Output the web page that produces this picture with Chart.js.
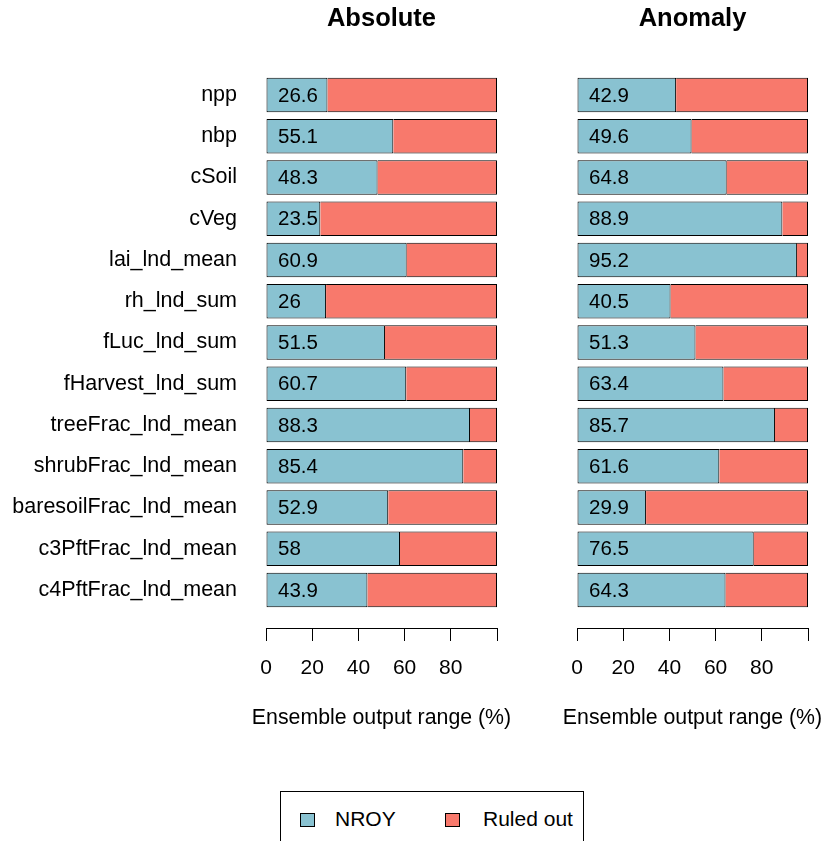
<!DOCTYPE html>
<html>
<head>
<meta charset="utf-8">
<script src="https://cdn.jsdelivr.net/npm/chart.js@4"></script>
<style>
  body { margin: 0; background: #fff; width: 824px; height: 841px; overflow: hidden; position: relative; font-family: "Liberation Sans", Arial, sans-serif; }
  #absChart { position: absolute; top: 0; left: 0; }
  #anomChart { position: absolute; top: 0; left: 561px; }
  #legend { position: absolute; left: 280px; top: 791px; width: 304px; height: 80px; border: 1px solid #000; box-sizing: border-box; }
  .sw { position: absolute; top: 21px; width: 15px; height: 14px; border: 1px solid #000; box-sizing: border-box; }
  .lt { position: absolute; top: 15px; font-size: 21px; line-height: 24px; color: #000; }
  #err { position: absolute; left: 0; top: 760px; font-size: 12px; color: red; }
</style>
</head>
<body>
<canvas id="absChart" width="763" height="760"></canvas>
<canvas id="anomChart" width="263" height="760"></canvas>
<div id="legend">
  <div class="sw" style="left:19px;background:#89C2D1"></div><div class="lt" style="left:54px">NROY</div>
  <div class="sw" style="left:164px;background:#F8796C"></div><div class="lt" style="left:202px">Ruled out</div>
</div>
<div id="err"></div>
<script>
// données
const rowNames = ['npp', 'nbp', 'cSoil', 'cVeg', 'lai_lnd_mean', 'rh_lnd_sum', 'fLuc_lnd_sum',
  'fHarvest_lnd_sum', 'treeFrac_lnd_mean', 'shrubFrac_lnd_mean', 'baresoilFrac_lnd_mean',
  'c3PftFrac_lnd_mean', 'c4PftFrac_lnd_mean'];
const absNroy   = [26.6, 55.1, 48.3, 23.5, 60.9, 26, 51.5, 60.7, 88.3, 85.4, 52.9, 58, 43.9];
const absRuled  = [73.4, 44.9, 51.7, 76.5, 39.1, 74, 48.5, 39.3, 11.7, 14.6, 47.1, 42, 56.1];
const anomNroy  = [42.9, 49.6, 64.8, 88.9, 95.2, 40.5, 51.3, 63.4, 85.7, 61.6, 29.9, 76.5, 64.3];
const anomRuled = [57.1, 50.4, 35.2, 11.1, 4.8, 59.5, 48.7, 36.6, 14.3, 38.4, 70.1, 23.5, 35.7];
const xTicks = [0, 20, 40, 60, 80, 100];

const colNroy = '#89C2D1';
const colRuled = '#F8796C';

Chart.defaults.font.family = '"Liberation Sans", Arial, sans-serif';
Chart.defaults.font.size = 21;
Chart.defaults.color = '#000';

// étiquettes dans les barres
const barText = {
  id: 'barText',
  afterDatasetsDraw(chart) {
    const ctx = chart.ctx;
    const x0 = chart.scales.x.getPixelForValue(0);
    const meta = chart.getDatasetMeta(0);
    ctx.save();
    ctx.font = '20.5px "Liberation Sans", Arial, sans-serif';
    ctx.fillStyle = '#000';
    ctx.textAlign = 'left';
    ctx.textBaseline = 'middle';
    meta.data.forEach((bar, i) => {
      ctx.fillText(String(chart.data.datasets[0].data[i].x), x0 + 12, bar.y + 1);
    });
    ctx.restore();
  }
};

// hauteur du sous-titre : 21.3 * 1.2 + 29
const subH = 21.3 * 1.2 + 29;

function makeChart(id, nroy, ruled, title, showNames, yWidth, rightWidth) {
  const toPts = vals => vals.map((v, i) => ({ x: v, y: i }));
  return new Chart(document.getElementById(id), {
    type: 'bar',
    data: {
      datasets: [
        { label: 'NROY', data: toPts(nroy), backgroundColor: colNroy, borderColor: '#000',
          borderWidth: 1, borderSkipped: false, inflateAmount: 0 },
        { label: 'Ruled out', data: toPts(ruled), backgroundColor: colRuled, borderColor: '#000',
          borderWidth: { top: 1, right: 1, bottom: 1, left: 0 }, borderSkipped: false, inflateAmount: 0 }
      ]
    },
    options: {
      indexAxis: 'y',
      responsive: false,
      animation: false,
      layout: { padding: 0 },
      datasets: { bar: { barPercentage: 1, categoryPercentage: 0.833 } },
      plugins: {
        legend: { display: false },
        tooltip: { enabled: false },
        title: { display: true, text: title, color: '#000', font: { size: 25.5, weight: 'bold' },
                 padding: { top: 3.7, bottom: 40.1 } },
        subtitle: { display: true, position: 'bottom', text: 'Ensemble output range (%)', color: '#000',
                    font: { size: 21.3 }, padding: { top: 0, bottom: 29 } }
      },
      scales: {
        x: {
          type: 'linear', position: 'bottom', stacked: true, min: 0, max: 100,
          afterBuildTicks: s => { s.ticks = xTicks.map(v => ({ value: v })); },
          ticks: { autoSkip: false, maxRotation: 0, padding: 15, callback: v => (v === 100 ? '' : v) },
          grid: { drawOnChartArea: false, drawTicks: true, tickLength: 13, color: '#000' },
          border: { display: true, color: '#000', width: 1 },
          afterFit: s => { s.height = 760 - 628 - subH; s.paddingLeft = 0; s.paddingRight = 0; }
        },
        y: {
          type: 'linear', stacked: true, reverse: true, offset: false, min: -0.5, max: 12.92,
          afterBuildTicks: s => { s.ticks = rowNames.map((n, i) => ({ value: i })); },
          ticks: { display: showNames, autoSkip: false, padding: 29, font: { size: 21.5 }, callback: v => rowNames[v] },
          grid: { display: false, drawTicks: false, offset: false },
          border: { display: false },
          afterFit: s => { s.width = yWidth; s.paddingTop = 0; s.paddingBottom = 0; }
        },
        // axe vide à droite pour centrer les titres sur la zone du graphique
        yRight: {
          type: 'linear', axis: 'y', position: 'right', offset: false,
          ticks: { display: false },
          grid: { display: false, drawTicks: false },
          border: { display: false },
          afterFit: s => { s.width = rightWidth; s.paddingTop = 0; s.paddingBottom = 0; }
        }
      }
    },
    plugins: [barText]
  });
}

try {
  makeChart('absChart', absNroy, absRuled, 'Absolute', true, 266, 266);
  makeChart('anomChart', anomNroy, anomRuled, 'Anomaly', false, 16, 16);
} catch (e) {
  document.getElementById('err').textContent = e.message;
}
</script>
</body>
</html>
